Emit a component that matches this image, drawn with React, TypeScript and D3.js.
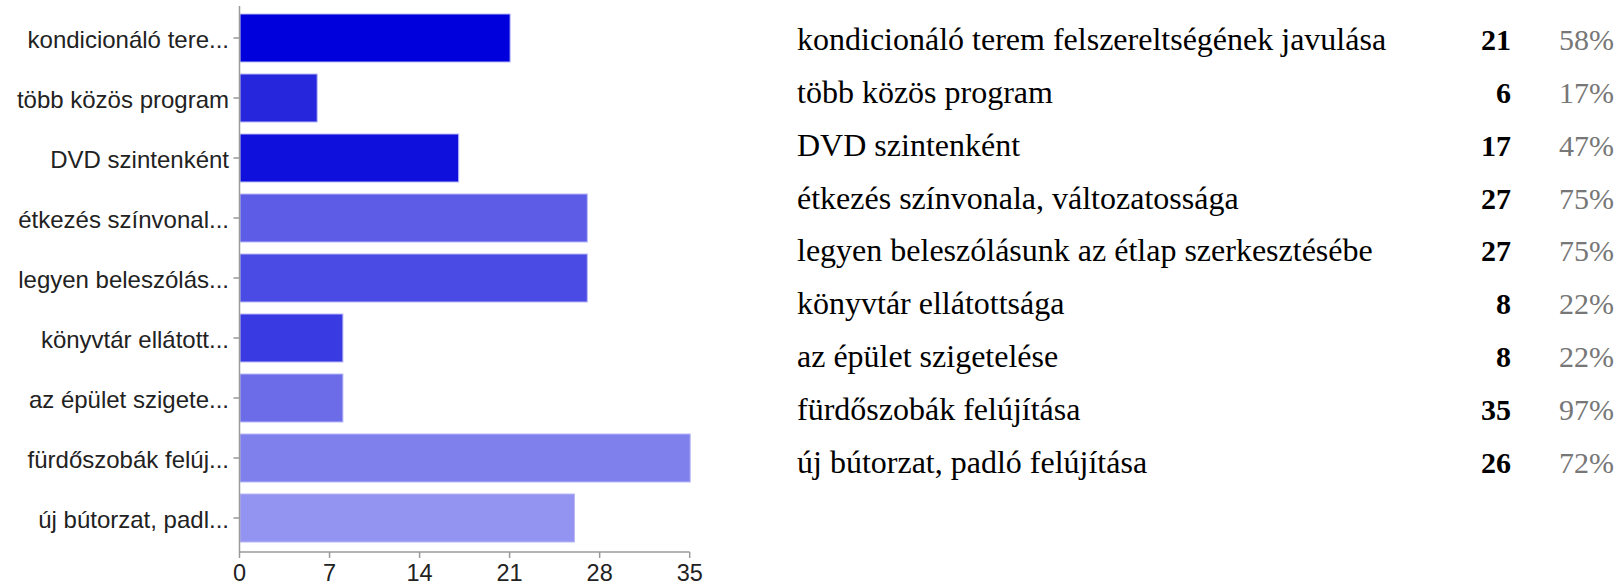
import React from "react";
import * as d3 from "d3";

const shortLabels = [
  "kondicionáló tere...",
  "több közös program",
  "DVD szintenként",
  "étkezés színvonal...",
  "legyen beleszólás...",
  "könyvtár ellátott...",
  "az épület szigete...",
  "fürdőszobák felúj...",
  "új bútorzat, padl...",
];
const fullLabels = [
  "kondicionáló terem felszereltségének javulása",
  "több közös program",
  "DVD szintenként",
  "étkezés színvonala, változatossága",
  "legyen beleszólásunk az étlap szerkesztésébe",
  "könyvtár ellátottsága",
  "az épület szigetelése",
  "fürdőszobák felújítása",
  "új bútorzat, padló felújítása",
];
const counts = [21, 6, 17, 27, 27, 8, 8, 35, 26];
const percents = ["58%", "17%", "47%", "75%", "75%", "22%", "22%", "97%", "72%"];
const barColors = [
  "#0000dd",
  "#2626dd",
  "#1010dc",
  "#5c5ce7",
  "#4a4ae4",
  "#3a3ae2",
  "#6c6ce9",
  "#8080ed",
  "#9393f1",
];
const xTicks = [0, 7, 14, 21, 28, 35];

export default function App() {
  const W = 1623;
  const H = 586;
  const x = d3.scaleLinear().domain([0, 35]).range([239.5, 689.7]);
  const idx = shortLabels.map((_, i) => String(i));
  const y = d3.scaleBand().domain(idx).range([8, 548]).paddingInner(0.2).paddingOuter(0.1);
  const axisY = 552;
  const rowY = d3.scaleLinear().domain([0, 8]).range([49.8, 473]);
  const sans = "'Liberation Sans', Arial, Helvetica, sans-serif";
  const serif = "'Liberation Serif', 'Times New Roman', serif";
  return (
    <svg
      width={W}
      height={H}
      style={{ position: "absolute", left: 0, top: 0, background: "#fff" }}
    >
      {/* bars */}
      {counts.map((v, i) => (
        <rect
          key={"b" + i}
          x={x(0) + 0.5}
          y={y(String(i))!}
          width={x(v) - x(0)}
          height={y.bandwidth()}
          fill={barColors[i]}
          stroke="#b8b8f8"
          strokeWidth={1}
        />
      ))}
      {/* y axis */}
      <line x1={x(0)} x2={x(0)} y1={6} y2={axisY} stroke="#9a9a9a" strokeWidth={1.5} />
      {shortLabels.map((l, i) => {
        const cy = y(String(i))! + y.bandwidth() / 2;
        return (
          <g key={"yl" + i}>
            <line x1={x(0) - 6} x2={x(0)} y1={cy} y2={cy} stroke="#9a9a9a" strokeWidth={1.5} />
            <text
              x={229}
              y={cy + 10}
              textAnchor="end"
              fontFamily={sans}
              fontSize={24}
              fill="#222"
            >
              {l}
            </text>
          </g>
        );
      })}
      {/* x axis */}
      <line x1={x(0)} x2={x(35)} y1={axisY} y2={axisY} stroke="#9a9a9a" strokeWidth={1.5} />
      {xTicks.map((t) => (
        <g key={"xt" + t}>
          <line x1={x(t)} x2={x(t)} y1={axisY} y2={axisY + 6} stroke="#9a9a9a" strokeWidth={1.5} />
          <text
            x={x(t)}
            y={581}
            textAnchor="middle"
            fontFamily={sans}
            fontSize={23.5}
            fill="#222"
          >
            {t}
          </text>
        </g>
      ))}
      {/* table */}
      {fullLabels.map((l, i) => (
        <g key={"r" + i}>
          <text x={797} y={rowY(i)} fontFamily={serif} fontSize={32} fill="#000">
            {l}
          </text>
          <text
            x={1511}
            y={rowY(i)}
            textAnchor="end"
            fontFamily={serif}
            fontSize={30}
            fontWeight="bold"
            fill="#000"
          >
            {counts[i]}
          </text>
          <text
            x={1614}
            y={rowY(i)}
            textAnchor="end"
            fontFamily={serif}
            fontSize={30}
            fill="#777"
          >
            {percents[i]}
          </text>
        </g>
      ))}
    </svg>
  );
}
